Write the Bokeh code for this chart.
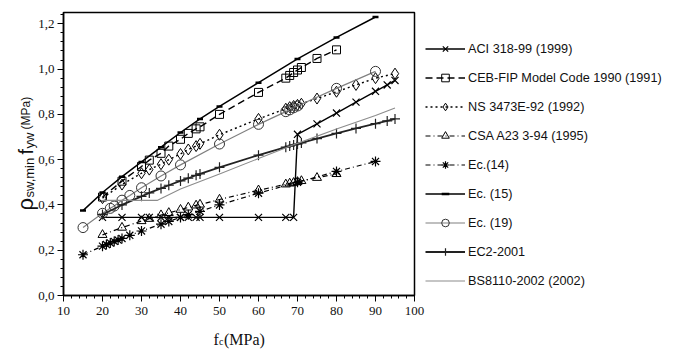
import math
from bokeh.plotting import figure
from bokeh.models import (FixedTicker, Label, Legend, LegendItem, Range1d, LinearAxis,
                          BoxAnnotation, CustomJSTickFormatter)
from bokeh.embed import file_html
from bokeh.resources import INLINE

# ---------------- data ----------------
x_ticks = [10, 20, 30, 40, 50, 60, 70, 80, 90, 100]
y_ticks = [0.0, 0.2, 0.4, 0.6, 0.8, 1.0, 1.2]

aci_x = [20, 25, 30, 32, 35, 37, 40, 42, 44, 45, 50, 60, 67, 69, 70, 75, 80, 85, 90, 93, 95]
aci_y = [0.345, 0.345, 0.345, 0.345, 0.345, 0.345, 0.345, 0.345, 0.345, 0.345, 0.345, 0.345,
         0.345, 0.345, 0.712, 0.758, 0.806, 0.854, 0.902, 0.93, 0.95]

ceb_x = [20, 25, 30, 32, 35, 37, 40, 42, 44, 45, 50, 60, 67, 68, 69, 70, 71, 75, 80]
ceb_y = [0.435, 0.505, 0.57, 0.598, 0.628, 0.66, 0.69, 0.716, 0.736, 0.745, 0.80, 0.897,
         0.96, 0.972, 0.985, 0.996, 1.007, 1.047, 1.085]

ns_x = [20, 25, 30, 32, 35, 37, 40, 42, 44, 45, 50, 60, 67, 68, 69, 70, 71, 75, 80, 85, 90, 95]
ns_y = [0.43, 0.49, 0.54, 0.556, 0.58, 0.60, 0.625, 0.645, 0.66, 0.67, 0.71, 0.78, 0.825,
        0.832, 0.837, 0.842, 0.847, 0.87, 0.90, 0.93, 0.96, 0.98]

csa_x = [20, 25, 30, 32, 35, 37, 40, 42, 44, 45, 50, 60, 67, 68, 69, 70, 71, 75, 80]
csa_y = [0.268, 0.30, 0.329, 0.339, 0.355, 0.365, 0.379, 0.389, 0.398, 0.402, 0.424, 0.465,
         0.491, 0.495, 0.498, 0.502, 0.506, 0.52, 0.537]

ec14_x = [15, 20, 21, 22, 23, 24, 25, 27, 30, 35, 37, 40, 42, 45, 50, 60, 70, 80, 90]
ec14_y = [0.18, 0.218, 0.225, 0.232, 0.239, 0.245, 0.252, 0.266, 0.285, 0.315, 0.327, 0.345,
          0.357, 0.372, 0.40, 0.452, 0.50, 0.548, 0.592]

ec15_x = [15, 20, 25, 30, 35, 40, 45, 50, 60, 70, 80, 90]
ec15_y = [0.375, 0.455, 0.525, 0.59, 0.655, 0.72, 0.78, 0.835, 0.94, 1.045, 1.14, 1.23]

ec19_x = [15, 20, 22, 23, 25, 27, 30, 35, 40, 50, 60, 67, 68, 69, 70, 80, 90]
ec19_y = [0.30, 0.363, 0.385, 0.395, 0.421, 0.442, 0.476, 0.528, 0.577, 0.669, 0.756, 0.812,
          0.82, 0.829, 0.837, 0.915, 0.99]

ec2_x = [20, 25, 30, 32, 35, 37, 40, 42, 44, 45, 50, 60, 67, 68, 69, 70, 71, 75, 80, 85, 90, 93, 95]
ec2_y = [0.358, 0.40, 0.438, 0.453, 0.473, 0.487, 0.506, 0.518, 0.531, 0.537, 0.566, 0.62,
         0.655, 0.66, 0.665, 0.669, 0.674, 0.693, 0.716, 0.738, 0.759, 0.771, 0.78]

bs_x = [20, 34, 40, 50, 60, 70, 80, 90, 95]
bs_y = [0.42, 0.42, 0.47, 0.537, 0.605, 0.672, 0.735, 0.795, 0.828]

labels = ["ACI 318-99 (1999)", "CEB-FIP Model Code 1990 (1991)", "NS 3473E-92 (1992)",
          "CSA A23 3-94 (1995)", "Ec.(14)", "Ec. (15)", "Ec. (19)", "EC2-2001",
          "BS8110-2002 (2002)"]

# ---------------- geometry (canvas pixels) ----------------
W, H = 673, 351
PX0, PX1 = 63.0, 414.0     # x=10 and x=100
PY0, PY1 = 295.0, 12.0     # y=0 and y=1.25
XMIN, XMAX, YMIN, YMAX = 10, 100, 0, 1.25
sx = (PX1 - PX0) / (XMAX - XMIN)
sy = (PY0 - PY1) / (YMAX - YMIN)

def dx(px):
    return XMIN + (px - PX0) / sx

def dy(py):
    return YMIN + (PY0 - py) / sy

p = figure(width=W, height=H, output_backend="svg", toolbar_location=None,
           x_range=Range1d(dx(0), dx(W)), y_range=Range1d(dy(H), dy(0)),
           x_axis_location=None, y_axis_location=None,
           min_border=0, min_border_left=0, min_border_right=0,
           min_border_top=0, min_border_bottom=0)
p.grid.visible = False
p.outline_line_color = None
p.background_fill_color = "white"
p.border_fill_color = "white"

xaxis = LinearAxis(fixed_location=YMIN, bounds=(XMIN, XMAX),
                   ticker=FixedTicker(ticks=x_ticks, minor_ticks=list(range(10, 101, 2))))
yaxis = LinearAxis(fixed_location=XMIN, bounds=(YMIN, 1.25),
                   ticker=FixedTicker(ticks=y_ticks, minor_ticks=[i * 0.04 for i in range(32)]),
                   formatter=CustomJSTickFormatter(code="return tick.toFixed(1).replace('.', ',');"))
for ax in (xaxis, yaxis):
    ax.axis_line_color = "black"
    ax.axis_line_width = 1.5
    ax.major_tick_line_color = "black"
    ax.minor_tick_line_color = "black"
    ax.major_tick_in = 0
    ax.major_tick_out = 6
    ax.minor_tick_in = 0
    ax.minor_tick_out = 3
    ax.major_label_text_font = "Liberation Serif"
    ax.major_label_text_font_size = "13px"
    ax.major_label_text_color = "#111111"
xaxis.major_label_standoff = 5
yaxis.major_label_standoff = 3
p.add_layout(xaxis, "below")
p.add_layout(yaxis, "left")

p.add_layout(BoxAnnotation(left=XMIN, right=XMAX, bottom=YMIN, top=YMAX,
                           fill_alpha=0, line_color="black", line_alpha=1.0,
                           line_width=1.5))

items = []

def add(xs, ys, label, line_kw, marker_kw=None):
    rs = [p.line(xs, ys, **line_kw)]
    if marker_kw:
        rs.append(p.scatter(xs, ys, **marker_kw))
    items.append(LegendItem(label=label, renderers=rs))

add(aci_x, aci_y, labels[0], dict(line_color="black", line_width=1.4),
    dict(marker="x", size=10, line_color="black", line_width=1.2))
add(ceb_x, ceb_y, labels[1], dict(line_color="black", line_width=1.4, line_dash="7 4"),
    dict(marker="square", size=8, line_color="black", fill_alpha=0, line_width=1))
add(ns_x, ns_y, labels[2], dict(line_color="black", line_width=1.4, line_dash="2 3"),
    dict(marker="diamond", size=11, line_color="black", fill_alpha=0, line_width=1))
add(csa_x, csa_y, labels[3], dict(line_color="black", line_width=1.2, line_dash="5 3 1 3"),
    dict(marker="triangle", size=9, line_color="black", fill_alpha=0, line_width=1))
add(ec14_x, ec14_y, labels[4], dict(line_color="black", line_width=1.2, line_dash="5 3 1 3"),
    dict(marker="asterisk", size=10, line_color="black", line_width=1.2))
add(ec15_x, ec15_y, labels[5], dict(line_color="black", line_width=1.5),
    dict(marker="dash", size=6, line_color="black", line_width=2.5))
add(ec19_x, ec19_y, labels[6], dict(line_color="#808080", line_width=1.2),
    dict(marker="circle", size=10, line_color="#333333", fill_alpha=0, line_width=1))
add(ec2_x, ec2_y, labels[7], dict(line_color="#222222", line_width=1.8),
    dict(marker="cross", size=10, line_color="#222222", line_width=1.2))
add(bs_x, bs_y, labels[8], dict(line_color="#8c8c8c", line_width=1.1))

# legend: bottom-left corner in frame screen px (frame == whole canvas)
legend = Legend(items=items, location=(425, H - 290), orientation="vertical",
                glyph_width=40, glyph_height=19, label_height=19, spacing=10,
                label_standoff=3, padding=0, margin=0,
                border_line_color=None, background_fill_alpha=0,
                label_text_font="Liberation Sans", label_text_font_size="12.7px",
                label_text_color="#111111")
p.add_layout(legend, "center")

# ---------------- axis titles ----------------
def lab(px, py, text, size, font, angle=0.0):
    p.add_layout(Label(x=dx(px), y=dy(py), text=text, text_font=font,
                       text_font_size=size, angle=angle, text_align="left",
                       text_baseline="alphabetic", text_color="#111111"))

r = math.pi / 2
lab(25, 210, "ρ", "22px", "Liberation Sans", r)
lab(29, 197, "sw,min", "13px", "Liberation Sans", r)
lab(25, 154, "f", "20px", "Liberation Sans", r)
lab(29, 148, "yw", "13px", "Liberation Sans", r)
lab(25.5, 129, "(MPa)", "12px", "Liberation Sans", r)

lab(213, 339, "f", "16px", "Liberation Serif")
lab(218.5, 341, "c", "10px", "Liberation Serif")
lab(223.5, 339, "(MPa)", "16px", "Liberation Serif")

open("out.html", "w").write(file_html(p, INLINE))
